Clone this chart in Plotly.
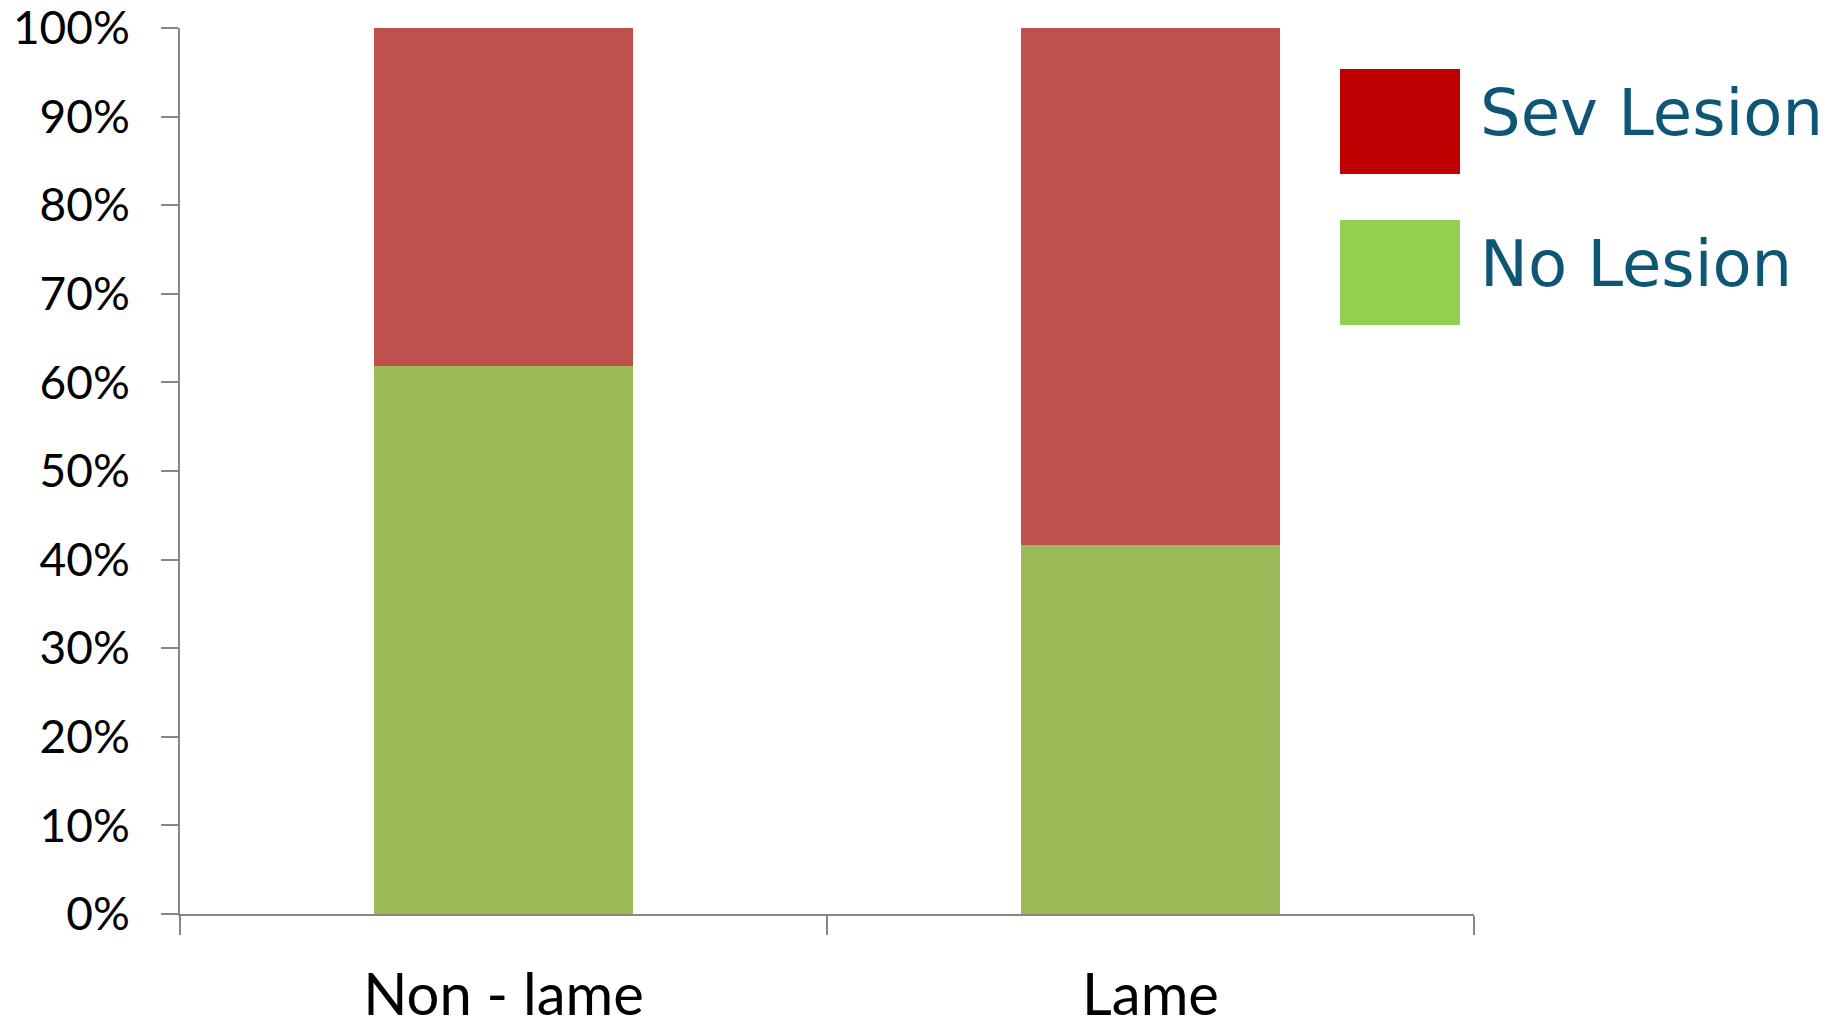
import plotly.graph_objects as go

# Share of animals by lesion status within each gait group
groups = ["Non - lame", "Lame"]
no_lesion = [0.619, 0.417]
sev_lesion = [0.381, 0.583]

series_names = ["Sev Lesion", "No Lesion"]
legend_colors = ["#C00000", "#92D050"]

y_ticks = [i / 10 for i in range(11)]
y_tick_text = [f"{i * 10}%" for i in range(11)]

BAR_GREEN = "#9BBB59"
BAR_RED = "#C0504D"
AXIS_GREY = "#868686"

W, H = 1845, 1021
L, R, T, B = 180, 371, 28, 107
PW, PH = W - L - R, H - T - B

fig = go.Figure()
fig.add_trace(go.Bar(x=groups, y=no_lesion, name="No Lesion",
                     marker=dict(color=BAR_GREEN, line=dict(width=0))))
fig.add_trace(go.Bar(x=groups, y=sev_lesion, name="Sev Lesion",
                     marker=dict(color=BAR_RED, line=dict(width=0))))

fig.update_layout(
    barmode="stack",
    bargap=0.6,
    width=W, height=H,
    margin=dict(l=L, r=R, t=T, b=B),
    paper_bgcolor="white", plot_bgcolor="white",
    showlegend=False,
    font=dict(family="Lato", color="black"),
)

fig.update_xaxes(
    type="category", automargin=False,
    showline=True, linecolor=AXIS_GREY, linewidth=2,
    ticks="outside", tickson="boundaries", ticklen=19, tickcolor=AXIS_GREY, tickwidth=2,
    tickfont=dict(family="Lato", size=58, color="black"),
    ticklabelstandoff=29, ticklabeloverflow="allow",
    showgrid=False, zeroline=False,
)
fig.update_yaxes(
    range=[0, 1], automargin=False,
    tickvals=y_ticks, ticktext=y_tick_text,
    showline=True, linecolor=AXIS_GREY, linewidth=2,
    ticks="outside", ticklen=17, tickcolor=AXIS_GREY, tickwidth=2,
    tickfont=dict(family="Lato", size=46, color="black"),
    ticklabelstandoff=22, ticklabeloverflow="allow",
    showgrid=False, zeroline=False,
)

# Legend drawn as large swatches with labels beside them (pixel positions)
swatch_tops = [69, 220]
swatch_h = 105
for name, color, top in zip(series_names, legend_colors, swatch_tops):
    fig.add_shape(type="rect", xref="paper", yref="paper",
                  x0=(1340 - L) / PW, x1=(1460 - L) / PW,
                  y0=(H - B - (top + swatch_h)) / PH, y1=(H - B - top) / PH,
                  line=dict(width=0), fillcolor=color)
    fig.add_annotation(xref="paper", yref="paper",
                       x=(1478 - L) / PW, y=(H - B - (top + 44)) / PH,
                       xanchor="left", yanchor="middle", showarrow=False,
                       text=name,
                       font=dict(family="DejaVu Sans", size=64, color="#0E5676"))

fig.write_html("out.html")
